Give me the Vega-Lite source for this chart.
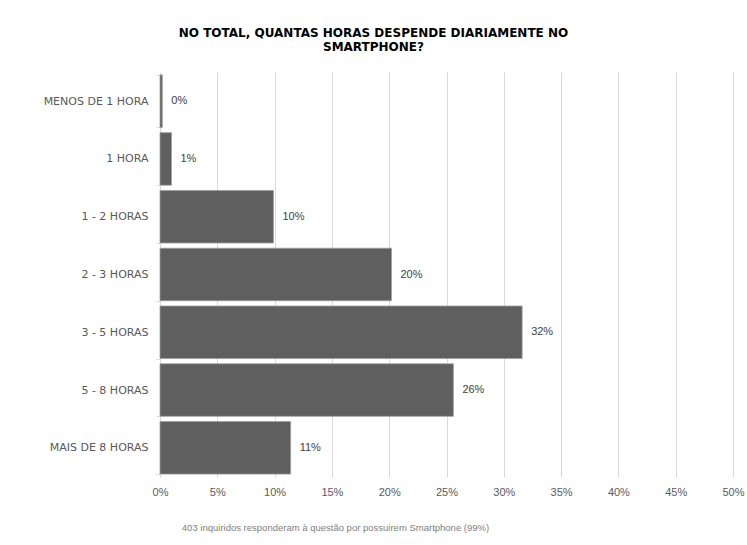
{
  "$schema": "https://vega.github.io/schema/vega-lite/v6.json",
  "autosize": "none",
  "width": 573,
  "height": 405,
  "padding": {"left": 160, "top": 72, "right": 14, "bottom": 68},
  "background": "white",
  "config": {"view": {"stroke": null}},
  "title": {
    "text": ["NO TOTAL, QUANTAS HORAS DESPENDE DIARIAMENTE NO", "SMARTPHONE?"],
    "anchor": "middle",
    "dx": -73,
    "offset": 12,
    "font": "DejaVu Sans",
    "fontSize": 12,
    "fontWeight": "bold",
    "color": "#000000",
    "lineHeight": 14
  },
  "data": {
    "values": [
      {"categoria": "MENOS DE 1 HORA", "percentagem": 0.002},
      {"categoria": "1 HORA", "percentagem": 0.01},
      {"categoria": "1 - 2 HORAS", "percentagem": 0.099},
      {"categoria": "2 - 3 HORAS", "percentagem": 0.202},
      {"categoria": "3 - 5 HORAS", "percentagem": 0.316},
      {"categoria": "5 - 8 HORAS", "percentagem": 0.256},
      {"categoria": "MAIS DE 8 HORAS", "percentagem": 0.114}
    ]
  },
  "encoding": {
    "y": {
      "field": "categoria",
      "type": "nominal",
      "sort": null,
      "scale": {"paddingInner": 0.09, "paddingOuter": 0.05},
      "axis": {
        "title": null,
        "domain": false,
        "grid": false,
        "ticks": true,
        "tickBand": "extent",
        "tickSize": 4,
        "tickColor": "#d9d9d9",
        "labelPadding": 8,
        "labelFont": "DejaVu Sans",
        "labelFontSize": 11,
        "labelColor": "#595959"
      }
    },
    "x": {
      "field": "percentagem",
      "type": "quantitative",
      "scale": {"domain": [0, 0.5], "nice": false},
      "axis": {
        "format": ".0%",
        "values": [0, 0.05, 0.1, 0.15, 0.2, 0.25, 0.3, 0.35, 0.4, 0.45, 0.5],
        "domain": false,
        "ticks": false,
        "grid": true,
        "gridColor": "#d9d9d9",
        "gridWidth": 1,
        "labelFlush": false,
        "labelPadding": 9,
        "labelFont": "Liberation Sans",
        "labelFontSize": 11,
        "labelColor": "#595959",
        "title": "403 inquiridos responderam à questão por possuirem Smartphone (99%)",
        "titleFont": "Liberation Sans",
        "titleFontSize": 9.5,
        "titleFontWeight": "normal",
        "titleColor": "#808080",
        "titleX": 175,
        "titleY": 50,
        "titleAlign": "center",
        "titleBaseline": "middle",
        "titleAnchor": null
      }
    }
  },
  "layer": [
    {
      "mark": {"type": "bar", "color": "#5f5f5f", "stroke": "#a0a0a0", "strokeWidth": 0.8}
    },
    {
      "mark": {"type": "text", "align": "left", "baseline": "middle", "dx": 9, "font": "Liberation Sans", "fontSize": 11, "color": "#404040"},
      "encoding": {
        "text": {"field": "percentagem", "type": "quantitative", "format": ".0%"}
      }
    }
  ]
}
